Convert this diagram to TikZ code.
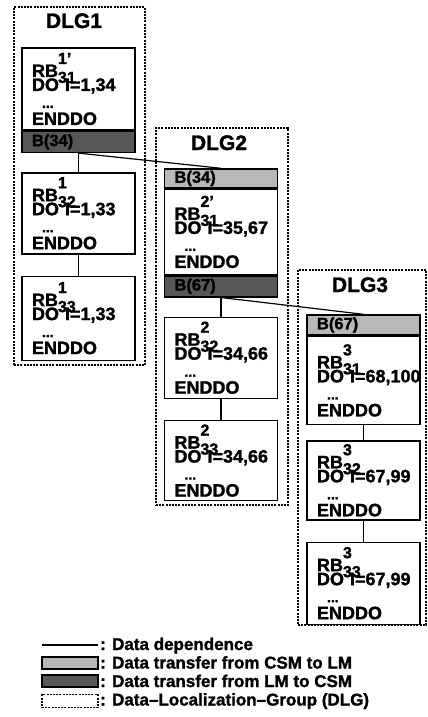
\documentclass[tikz,border=0pt]{standalone}
\usepackage{fontspec}
\setmainfont{Liberation Sans}[BoldFeatures={FakeBold=1.4}]
\usetikzlibrary{positioning}

\newcommand{\rbtag}[2]{RB\rlap{\raisebox{13pt}{\fontsize{16}{16}\selectfont #1}}\raisebox{-6pt}[0pt][0pt]{\fontsize{16}{16}\selectfont #2}}
\newcommand{\dotline}{\hspace*{10pt}{\fontsize{14}{14}\selectfont ...}}

\begin{document}
\begin{tikzpicture}[
    x=1pt, y=-1pt,
    font=\bfseries,
    rbbox/.style={draw, line width=1.4pt, fill=white, minimum width=113pt,
        text width=93pt, inner xsep=10pt, inner ysep=0pt, align=left,
        font=\bfseries\fontsize{18}{17}\selectfont},
    barbox/.style={draw, line width=1.4pt, minimum width=113pt, minimum height=20pt,
        text width=93pt, inner xsep=10pt, inner ysep=0pt, align=left,
        font=\bfseries\fontsize{16.5}{16.5}\selectfont},
    csmfill/.style={fill=black!28},
    lmfill/.style={fill=black!66},
    csmbar/.style={barbox, csmfill},
    lmbar/.style={barbox, lmfill},
    keybox/.style={draw, line width=1.2pt, minimum width=56pt, minimum height=12pt, inner sep=0pt},
    dlgframe/.style={draw, line width=2.2pt, dash pattern=on 2pt off 1.2pt, inner sep=0pt},
    dlgtitle/.style={anchor=base, font=\bfseries\fontsize{21}{21}\selectfont},
    dep/.style={line width=1.2pt},
    legtext/.style={anchor=base west, inner sep=0pt, font=\bfseries\fontsize{17}{17}\selectfont},
]
\useasboundingbox (0,0) rectangle (428,717);

% grupo 1
\node[dlgframe, minimum width=131pt, minimum height=358pt] (g1) at (79.5,186) {};
\node[dlgtitle] (t1) at (74,28) {DLG1};
\node[rbbox, minimum height=82pt] (r11) at (78.5,89)
    {\rbtag{1'}{31}\\[-3pt]DO~I=1,34\\\dotline\\ENDDO};
\node[lmbar, minimum height=21pt, below=0pt of r11] (o1) {B(34)};
\node[rbbox, minimum height=81pt, below=19pt of o1] (r12)
    {\rbtag{1}{32}\\[-3pt]DO~I=1,33\\\dotline\\ENDDO};
\node[rbbox, minimum height=84pt, below=21pt of r12] (r13)
    {\rbtag{1}{33}\\[-3pt]DO~I=1,33\\\dotline\\ENDDO};

% grupo 2
\node[dlgframe, minimum width=132pt, minimum height=377pt] (g2) at (222,316.5) {};
\node[dlgtitle] (t2) at (219,150) {DLG2};
\node[csmbar, minimum height=19pt] (i2) at (221,178.5) {B(34)};
\node[rbbox, minimum height=85pt, below=0pt of i2] (r21)
    {\rbtag{2'}{31}\\[-3pt]DO~I=35,67\\\dotline\\ENDDO};
\node[lmbar, minimum height=21pt, below=0pt of r21] (o2) {B(67)};
\node[rbbox, minimum height=81pt, below=19pt of o2] (r22)
    {\rbtag{2}{32}\\[-3pt]DO~I=34,66\\\dotline\\ENDDO};
\node[rbbox, minimum height=80pt, below=21pt of r22] (r23)
    {\rbtag{2}{33}\\[-3pt]DO~I=34,66\\\dotline\\ENDDO};

% grupo 3
\node[dlgframe, minimum width=128pt, minimum height=355pt] (g3) at (362,447.5) {};
\node[dlgtitle] (t3) at (360,292) {DLG3};
\node[csmbar, minimum height=20pt] (i3) at (363.5,325) {B(67)};
\node[rbbox, minimum height=88pt, below=0pt of i3] (r31)
    {\rbtag{3}{31}\\[-3pt]DO~I=68,100\\\dotline\\ENDDO};
\node[rbbox, minimum height=79pt, below=15pt of r31] (r32)
    {\rbtag{3}{32}\\[-3pt]DO~I=67,99\\\dotline\\ENDDO};
\node[rbbox, minimum height=82pt, below=21pt of r32] (r33)
    {\rbtag{3}{33}\\[-3pt]DO~I=67,99\\\dotline\\ENDDO};

% dependencias
\draw[dep] (o1) -- (r12);
\draw[dep] (r12) -- (r13);
\draw[dep] (o2) -- (r22);
\draw[dep] (r22) -- (r23);
\draw[dep] (r31) -- (r32);
\draw[dep] (r32) -- (r33);

% transferencias entre grupos
\draw[dep] (o1.south) -- (i2.north);
\draw[dep] (o2.south) -- (i3.north);

% leyenda
\coordinate (ka) at (42,645);
\coordinate (kb) at (98,645);
\draw[dep] (ka) -- (kb);
\node[keybox, csmfill] (k2) at (70,663) {};
\node[keybox, lmfill] (k3) at (70,681) {};
\node[dlgframe, line width=1.6pt, minimum width=56pt, minimum height=13pt] (k4) at (70,701) {};
\node[legtext] (e1) at (100,650) {: Data dependence};
\node[legtext] (e2) at (100,668.5) {: Data transfer from CSM to LM};
\node[legtext] (e3) at (100,687) {: Data transfer from LM to CSM};
\node[legtext] (e4) at (100,705.5) {: Data\textendash Localization\textendash Group (DLG)};

\end{tikzpicture}
\end{document}
